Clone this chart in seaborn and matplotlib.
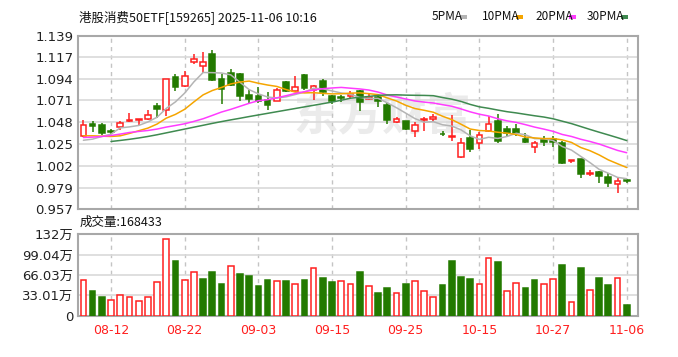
import numpy as np
import pandas as pd
import matplotlib
matplotlib.use("Agg")
import matplotlib.pyplot as plt
import seaborn as sns
from matplotlib.patches import Rectangle

# ==================== data ====================
dates = ["08-07", "08-08", "08-11", "08-12", "08-13", "08-14", "08-15", "08-18", "08-19", "08-20",
         "08-21", "08-22", "08-25", "08-26", "08-27", "08-28", "08-29", "09-01", "09-02", "09-03",
         "09-04", "09-05", "09-08", "09-09", "09-10", "09-11", "09-12", "09-15", "09-16", "09-17",
         "09-18", "09-19", "09-22", "09-23", "09-24", "09-25", "09-26", "09-29", "09-30", "10-09",
         "10-10", "10-13", "10-14", "10-15", "10-16", "10-17", "10-20", "10-21", "10-22", "10-23",
         "10-24", "10-27", "10-28", "10-29", "10-30", "10-31", "11-03", "11-04", "11-05", "11-06"]

opens = [1.0330, 1.0460, 1.0454, 1.0386, 1.0425, 1.0496, 1.0500, 1.0517, 1.0651, 1.0605,
         1.0959, 1.0860, 1.1118, 1.1072, 1.1196, 1.0941, 1.1001, 1.0990, 1.0764, 1.0761,
         1.0719, 1.0708, 1.0902, 1.0814, 1.0977, 1.0817, 1.0913, 1.0754, 1.0750, 1.0761,
         1.0807, 1.0729, 1.0743, 1.0658, 1.0478, 1.0496, 1.0390, 1.0503, 1.0517, 1.0358,
         1.0326, 1.0118, 1.0319, 1.0266, 1.0383, 1.0496, 1.0411, 1.0411, 1.0305, 1.0224,
         1.0302, 1.0302, 1.0266, 1.0072, 1.0090, 0.9930, 0.9952, 0.9899, 0.9824, 0.9870]
highs = [1.0506, 1.0489, 1.0472, 1.0404, 1.0496, 1.0577, 1.0517, 1.0605, 1.0683, 1.0941,
         1.0984, 1.1019, 1.1196, 1.1224, 1.1242, 1.0984, 1.1044, 1.0995, 1.0825, 1.0849,
         1.0800, 1.0842, 1.0913, 1.0966, 1.0984, 1.0871, 1.0941, 1.0772, 1.0772, 1.0807,
         1.0825, 1.0789, 1.0772, 1.0683, 1.0531, 1.0496, 1.0482, 1.0531, 1.0567, 1.0390,
         1.0560, 1.0319, 1.0400, 1.0376, 1.0542, 1.0567, 1.0436, 1.0461, 1.0365, 1.0277,
         1.0340, 1.0330, 1.0277, 1.0086, 1.0093, 0.9976, 0.9966, 0.9941, 0.9888, 0.9877]
lows = [1.0320, 1.0376, 1.0347, 1.0354, 1.0400, 1.0478, 1.0454, 1.0506, 1.0524, 1.0542,
        1.0814, 1.0856, 1.1097, 1.1001, 1.0920, 1.0670, 1.0860, 1.0708, 1.0683, 1.0683,
        1.0613, 1.0701, 1.0800, 1.0796, 1.0825, 1.0719, 1.0754, 1.0673, 1.0694, 1.0729,
        1.0595, 1.0715, 1.0640, 1.0461, 1.0471, 1.0400, 1.0323, 1.0390, 1.0496, 1.0330,
        1.0284, 1.0107, 1.0171, 1.0199, 1.0376, 1.0266, 1.0330, 1.0330, 1.0259, 1.0160,
        1.0234, 1.0224, 1.0040, 1.0047, 0.9888, 0.9916, 0.9842, 0.9800, 0.9729, 0.9835]
closes = [1.0454, 1.0436, 1.0365, 1.0376, 1.0471, 1.0508, 1.0510, 1.0552, 1.0623, 1.0938,
          1.0853, 1.0973, 1.1143, 1.1118, 1.0930, 1.0832, 1.0878, 1.0754, 1.0726, 1.0708,
          1.0666, 1.0825, 1.0814, 1.0849, 1.0842, 1.0860, 1.0800, 1.0701, 1.0740, 1.0775,
          1.0694, 1.0743, 1.0708, 1.0506, 1.0514, 1.0411, 1.0454, 1.0517, 1.0535, 1.0351,
          1.0340, 1.0259, 1.0199, 1.0347, 1.0464, 1.0277, 1.0362, 1.0368, 1.0270, 1.0259,
          1.0268, 1.0275, 1.0047, 1.0082, 0.9930, 0.9941, 0.9916, 0.9842, 0.9863, 0.9860]

# volume in 万
volumes = [57.3, 40.0, 30.8, 26.0, 34.1, 30.3, 23.8, 30.3, 55.2, 123.9,
           89.3, 57.3, 70.9, 60.0, 71.4, 51.9, 80.6, 67.1, 63.8, 48.1,
           57.9, 55.7, 55.7, 51.4, 57.9, 76.8, 61.7, 54.1, 55.7, 51.9,
           71.4, 47.6, 36.2, 44.4, 36.2, 51.9, 55.7, 40.0, 30.3, 49.8,
           89.3, 62.2, 60.0, 51.9, 93.0, 86.6, 40.0, 53.6, 44.4, 57.9,
           51.4, 59.5, 81.7, 22.7, 77.4, 41.7, 61.7, 49.8, 61.7, 16.84]

# moving-average values before the window is full
ma5_head = [1.0290, 1.0302, 1.0330, 1.0355]
ma10_head = [1.0337, 1.0337, 1.0333, 1.0330, 1.0337, 1.0362, 1.0390, 1.0418, 1.0461]
ma20_head = [1.0319, 1.0323, 1.0330, 1.0340, 1.0355, 1.0372, 1.0383, 1.0393, 1.0408, 1.0429,
             1.0446, 1.0464, 1.0489, 1.0517, 1.0552, 1.0588, 1.0616, 1.0648, 1.0680]
ma30_head = [np.nan, np.nan, np.nan,
             1.0277, 1.0288, 1.0300, 1.0314, 1.0330, 1.0348, 1.0368, 1.0388, 1.0408, 1.0428,
             1.0448, 1.0468, 1.0487, 1.0505, 1.0522, 1.0540, 1.0557, 1.0574, 1.0591, 1.0608,
             1.0625, 1.0642, 1.0659, 1.0676, 1.0693, 1.0712]

price_labels = ["0.957", "0.979", "1.002", "1.025", "1.048", "1.071", "1.094", "1.117", "1.139"]
vol_ticks = [0, 33.01, 66.03, 99.04, 132.05]
vol_labels = ["0", "33.01万", "66.03万", "99.04万", "132万"]
tick_dates = ["08-12", "08-22", "09-03", "09-15", "09-25", "10-15", "10-27", "11-06"]

title = "港股消费50ETF[159265] 2025-11-06 10:16"
vol_title = "成交量:168433"
ma_names = ["5PMA", "10PMA", "20PMA", "30PMA"]

# ==================== derived ====================
df = pd.DataFrame({"date": dates, "open": opens, "high": highs, "low": lows,
                   "close": closes, "vol": volumes})
df["i"] = np.arange(len(df))
df["up"] = df["close"] >= df["open"]
prev = np.r_[df["open"].iloc[0], df["close"].to_numpy()[:-1]]
df["vol_up"] = df["close"].to_numpy() >= prev

for n, head in [(5, ma5_head), (10, ma10_head), (20, ma20_head), (30, ma30_head)]:
    m = df["close"].rolling(n).mean().to_numpy()
    m[:len(head)] = head
    df[f"ma{n}"] = m

RED = "#ff1f1f"
GREEN = "#237a00"
ma_colors = ["#b4b4b4", "#f5a500", "#ff3cff", "#3f8a50"]

sns.set_style("white")
plt.rcParams["font.family"] = ["DejaVu Sans", "Noto Sans CJK SC"]

W, H = 678, 357
fig = plt.figure(figsize=(W / 100, H / 100), dpi=100)
L, R = 77.5, 637.5
ax_p = fig.add_axes([L / W, 1 - 208.5 / H, (R - L) / W, (208.5 - 36.0) / H])
ax_v = fig.add_axes([L / W, 1 - 315.7 / H, (R - L) / W, (315.7 - 234.3) / H])

tick_pos = [dates.index(d) for d in tick_dates]
body_w = 0.62

# ---------- price panel ----------
ax = ax_p
# faint watermark
ax.text(0.545, 0.53, "东方财富", transform=ax.transAxes, ha="center", va="center",
        fontsize=32, color="#ebebeb", fontweight="bold",
        family=["Noto Sans CJK SC"], zorder=0.5)
for up, col in [(True, RED), (False, GREEN)]:
    d = df[df["up"] == up]
    ax.vlines(d["i"], d["low"], d["high"], color=col, lw=1.1, zorder=2)
    bottom = np.minimum(d["open"], d["close"])
    height = np.maximum((d["close"] - d["open"]).abs(), 0.0004)
    ax.bar(d["i"], height, bottom=bottom, width=body_w,
           color="white" if up else col, edgecolor=col, linewidth=1.1, zorder=3)

for n, col in zip([5, 10, 20, 30], ma_colors):
    sns.lineplot(data=df, x="i", y=f"ma{n}", color=col, lw=1.1, ax=ax, zorder=4)

ax.set_xlim(-0.64, 60.17)
ax.set_ylim(0.957, 1.139)
ax.set_yticks([float(v) for v in price_labels])
ax.set_yticklabels(price_labels)
ax.set_xticks(tick_pos)
ax.tick_params(axis="x", labelbottom=False, length=0)
ax.set_xlabel("")
ax.set_ylabel("")

# ---------- volume panel ----------
ax = ax_v
for up, col in [(True, RED), (False, GREEN)]:
    d = df[df["vol_up"] == up]
    ax.bar(d["i"], d["vol"], width=body_w, color="white" if up else col,
           edgecolor=col, linewidth=1.1, zorder=3)
ax.set_xlim(-0.64, 60.17)
ax.set_ylim(0, 132.05)
ax.set_yticks(vol_ticks)
ax.set_yticklabels(vol_labels)
ax.set_xticks(tick_pos)
ax.set_xticklabels(tick_dates, color=RED, fontsize=9)
ax.tick_params(axis="x", length=0, pad=6)

for ax in (ax_p, ax_v):
    ax.set_axisbelow(True)
    ax.grid(axis="y", color="#d9d9d9", lw=1.2, ls="-")
    ax.grid(axis="x", color="#c4c4c4", lw=1.0, ls=(0, (3, 3)))
    ax.tick_params(axis="y", length=0, pad=3, labelsize=9.5, labelcolor="#222222")
    for sp in ax.spines.values():
        sp.set_color("#a8a8a8")
        sp.set_linewidth(1.5)

# ---------- header texts ----------
cjk = ["Noto Sans CJK SC", "DejaVu Sans"]
fig.text(79 / W, 1 - 17 / H, title, ha="left", va="center", fontsize=9, family=cjk, color="#111111")
fig.text(80 / W, 1 - 222.5 / H, vol_title, ha="left", va="center", fontsize=9, family=cjk, color="#111111")
for name, col, x0 in zip(ma_names, ma_colors, [432, 482, 535, 587]):
    fig.text(x0 / W, 1 - 17 / H, name, ha="left", va="center", fontsize=8.5,
             family=cjk, color="#111111")
    nx = x0 + 6.2 * len(name) + 3
    fig.patches.append(Rectangle((nx / W, 1 - 19 / H), 7 / W, 4 / H, transform=fig.transFigure,
                                 facecolor=col, edgecolor="none"))

fig.savefig("out.png", dpi=100)
